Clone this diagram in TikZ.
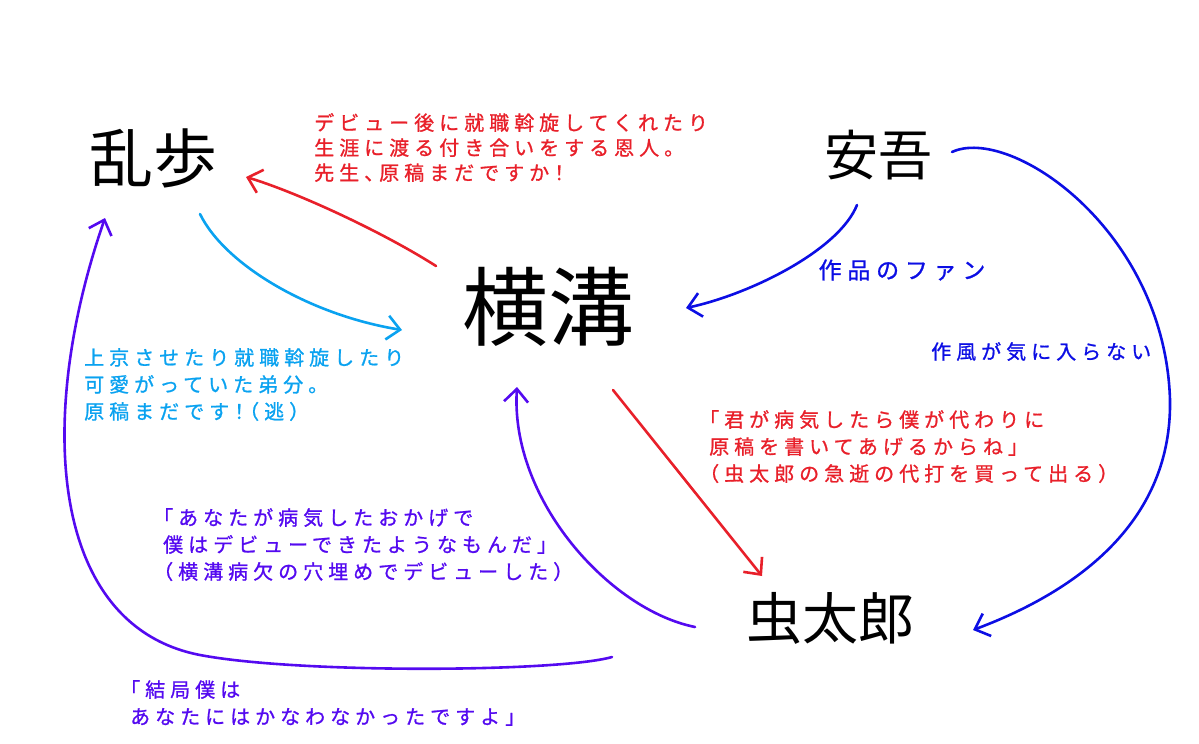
\documentclass[tikz,border=0pt]{standalone}
\usepackage{fontspec}
\usepackage{tikz}
\usetikzlibrary{arrows.meta}
\usepackage{xcolor}
\newfontfamily\jpnote[LetterSpace=25,FakeBold=1,RawFeature=+halt]{Noto Sans CJK JP}
\newfontfamily\jpname{Noto Sans CJK JP}
\definecolor{inkred}{RGB}{232,32,42}
\definecolor{inksky}{RGB}{10,162,240}
\definecolor{inkblue}{RGB}{12,14,228}
\definecolor{inkviolet}{RGB}{84,10,240}

\begin{document}
\begin{tikzpicture}[x=1pt,y=-1pt,>={Straight Barb[length=13pt,width=24pt]},line cap=round,line join=round,
  person/.style={font=\jpname\fontsize{#1}{#1}\selectfont,inner sep=0pt},
  note/.style={font=\jpnote\fontsize{20}{27}\selectfont,align=left,anchor=north west,inner sep=0pt},
  link/.style={->,line width=2.6pt}]
\useasboundingbox (0,0) rectangle (1199,744);
\node[person=64] (ranpo) at (153,158) {乱歩};
\node[person=86] (yokomizo) at (548,307) {横溝};
\node[person=54] (ango) at (878,155) {安吾};
\node[person=56] (mushitaro) at (830,618) {虫太郎};
\draw[link,inkred] ([shift={(-112,-41)}]yokomizo.center) .. controls +(-55,-35) and +(50,15) .. ([shift={(93,19)}]ranpo.center);
\draw[link,inksky] ([shift={(47,56)}]ranpo.center) .. controls +(25,51) and +(-92,-15) .. ([shift={(-146,23)}]yokomizo.center);
\draw[link,inkblue] ([shift={(-21,50)}]ango.center) .. controls +(-18,45) and +(65,-14) .. ([shift={(138,1)}]yokomizo.center);
\draw[link,inkblue] ([shift={(74,-3)}]ango.center) .. controls +(58,-27) and (1165,230) .. (1170,400) .. controls (1172,520) and +(107,-40) .. ([shift={(143,12)}]mushitaro.center);
\draw[link,inkred] ([shift={(65,83)}]yokomizo.center) -- ([shift={(-68,-42)}]mushitaro.center);
\draw[link,inkviolet] ([shift={(-135,9)}]mushitaro.center) .. controls +(-85,-17) and +(-7,113) .. ([shift={(-31,80)}]yokomizo.center);
\draw[link,inkviolet] ([shift={(-218,39)}]mushitaro.center) .. controls +(-52,15) and (300,674) .. (200,655) .. controls (50,626) and +(-70,202) .. ([shift={(-48,60)}]ranpo.center);
\node[note,inkred,font=\jpnote\fontsize{20}{25}\selectfont] (mentornote) at (314,113) {デビュー後に就職斡旋してくれたり\\生涯に渡る付き合いをする恩人。\\先生、原稿まだですか！};
\node[note,inksky] (protegenote) at (84,348) {上京させたり就職斡旋したり\\可愛がっていた弟分。\\原稿まだです！（逃）};
\node[note,inkblue,anchor=center,font=\jpnote\fontsize{23}{27}\selectfont] (fannote) at (902,270) {作品のファン};
\node[note,inkblue] (stylenote) at (931,342) {作風が気に入らない};
\node[note,inkred] (ghostnote) at (709,410) {「君が病気したら僕が代わりに\\原稿を書いてあげるからね」\\（虫太郎の急逝の代打を買って出る）};
\node[note,inkviolet] (debutnote) at (163,508) {「あなたが病気したおかげで\\僕はデビューできたようなもんだ」\\（横溝病欠の穴埋めでデビューした）};
\node[note,inkviolet] (losenote) at (130,680) {「結局僕は\\あなたにはかなわなかったですよ」};
\end{tikzpicture}
\end{document}
